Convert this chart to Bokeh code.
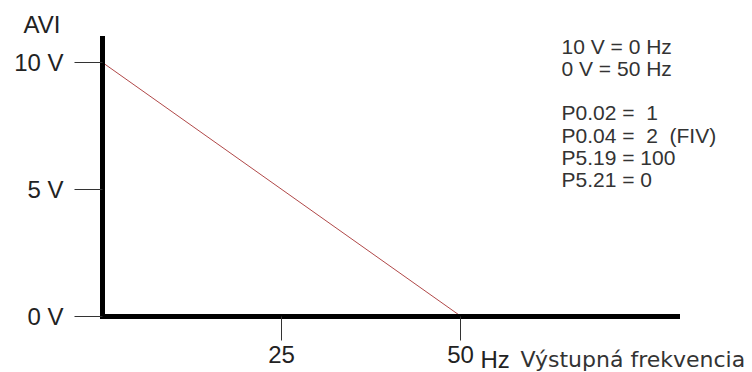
from bokeh.plotting import figure
from bokeh.models import Range1d, FixedTicker, Label
from bokeh.embed import file_html
from bokeh.resources import INLINE

# ---- data ----
freq_hz = [0, 50]
avi_volt = [10, 0]
x_ticks = [25, 50]
x_tick_labels = ["25", "50"]
y_ticks = [0, 5, 10]
y_tick_labels = ["0 V", "5 V", "10 V"]
settings_lines = [
    "10 V = 0 Hz",
    "0 V = 50 Hz",
    "",
    "P0.02 =\u00a0\u00a01",
    "P0.04 =\u00a0\u00a02\u00a0\u00a0(FIV)",
    "P5.19 = 100",
    "P5.21 = 0",
]
y_title = "AVI"
x_unit = "Hz"
x_title = "Výstupná frekvencia"

# ---- layout (pixel geometry of the frame mapped through ranges) ----
W, H = 752, 372
x0_px, x50_px = 102.0, 460.0        # pixel positions of 0 Hz and 50 Hz
y0_px, y10_px = 315.5, 62.0         # pixel positions of 0 V and 10 V (from top)
sx = (x50_px - x0_px) / 50.0
sy = (y0_px - y10_px) / 10.0
x_start, x_end = -x0_px / sx, (W - x0_px) / sx
y_start, y_end = -(H - y0_px) / sy, y0_px / sy
x_axis_end = (677 - x0_px) / sx
y_axis_end = (y0_px - 38) / sy

p = figure(width=W, height=H, output_backend="svg", toolbar_location=None,
           x_range=Range1d(x_start, x_end), y_range=Range1d(y_start, y_end),
           min_border=0, min_border_left=0, min_border_right=0,
           min_border_top=0, min_border_bottom=0)
p.outline_line_color = None
p.xgrid.visible = False
p.ygrid.visible = False
p.background_fill_color = "white"
p.border_fill_color = "white"

# red characteristic line
p.line(freq_hz, avi_volt, line_color="#b04848", line_width=1)

# y axis
ya = p.yaxis[0]
ya.fixed_location = 0
ya.bounds = (0, y_axis_end)
ya.ticker = FixedTicker(ticks=y_ticks)
ya.major_label_overrides = {t: l for t, l in zip(y_ticks, y_tick_labels)}
ya.axis_line_width = 5
ya.axis_line_color = "black"
ya.axis_line_cap = "square"
ya.major_tick_out = 28
ya.major_tick_in = 0
ya.major_tick_line_color = "#333333"
ya.major_tick_line_width = 1
ya.minor_tick_line_color = None
ya.major_label_standoff = 11
ya.major_label_text_font = "Liberation Sans"
ya.major_label_text_font_size = "24px"
ya.major_label_text_color = "#222222"

# x axis
xa = p.xaxis[0]
xa.fixed_location = 0
xa.bounds = (0, x_axis_end)
xa.ticker = FixedTicker(ticks=x_ticks)
xa.major_label_overrides = {t: l for t, l in zip(x_ticks, x_tick_labels)}
xa.axis_line_width = 5
xa.axis_line_color = "black"
xa.axis_line_cap = "square"
xa.major_tick_out = 24
xa.major_tick_in = 0
xa.major_tick_line_color = "#333333"
xa.major_tick_line_width = 1
xa.minor_tick_line_color = None
xa.major_label_standoff = 6
xa.major_label_text_font = "Liberation Sans"
xa.major_label_text_font_size = "24px"
xa.major_label_text_color = "#222222"

p.add_layout(Label(x=x_ticks[-1], y=0, text=x_unit, x_offset=20, y_offset=-30,
                   text_align="left", text_baseline="top",
                   text_font="Liberation Sans", text_font_size="24px",
                   text_color="#222222"))
p.add_layout(Label(x=x_ticks[-1], y=0, text=x_title, x_offset=60, y_offset=-31,
                   text_align="left", text_baseline="top",
                   text_font="DejaVu Sans", text_font_size="22px",
                   text_color="#333333"))

# y title
p.add_layout(Label(x=0, y=y_ticks[-1], text=y_title, x_offset=-42, y_offset=38,
                   text_align="right", text_baseline="middle",
                   text_font="Liberation Sans", text_font_size="24px",
                   text_color="#222222"))

# settings block
p.add_layout(Label(x=x_ticks[-1], y=y_ticks[-1], text="\n".join(settings_lines),
                   x_offset=101, y_offset=28, text_align="left", text_baseline="top",
                   text_font="Liberation Sans", text_font_size="21px",
                   text_line_height=0.97, text_color="#333333"))

open("out.html", "w").write(file_html(p, INLINE))
